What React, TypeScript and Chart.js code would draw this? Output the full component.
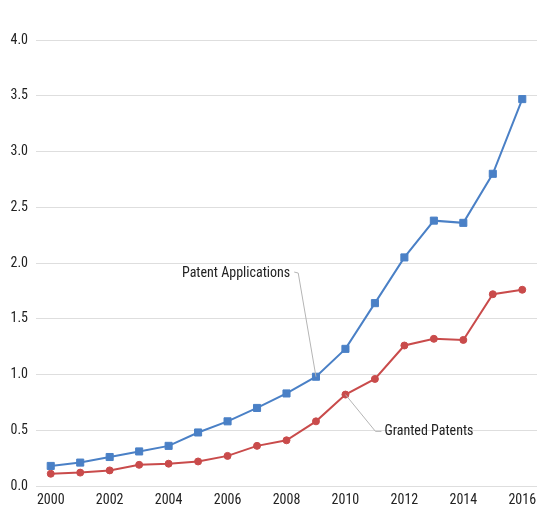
import React, { useEffect, useRef } from "react";
import { Chart, registerables } from "chart.js";

Chart.register(...registerables);

const years = ["2000","2001","2002","2003","2004","2005","2006","2007","2008","2009","2010","2011","2012","2013","2014","2015","2016"];
const applications = [0.18,0.21,0.26,0.31,0.36,0.48,0.58,0.70,0.83,0.98,1.23,1.64,2.05,2.38,2.36,2.80,3.47];
const granted = [0.11,0.12,0.14,0.19,0.20,0.22,0.27,0.36,0.41,0.58,0.82,0.96,1.26,1.32,1.31,1.72,1.76];
const yTicks = [0, 0.5, 1, 1.5, 2, 2.5, 3, 3.5, 4];

const FONT = "'Roboto Condensed', 'Liberation Sans Narrow', sans-serif";

const annotationPlugin = {
  id: "labels",
  afterDatasetsDraw(chart: any) {
    const ctx = chart.ctx;
    const x = chart.scales.x;
    const y = chart.scales.y;
    ctx.save();
    ctx.font = `14px ${FONT}`;
    ctx.fillStyle = "#222";
    ctx.textBaseline = "middle";
    ctx.textAlign = "left";
    // Patent Applications -> 2009
    const ax = x.getPixelForValue(9);
    const ay = y.getPixelForValue(applications[9]);
    const tY = y.getPixelForValue(1.91);
    const tX = ax - 134;
    ctx.fillText("Patent Applications", tX, tY);
    const tw = ctx.measureText("Patent Applications").width;
    ctx.strokeStyle = "#b5b5b5";
    ctx.lineWidth = 1;
    ctx.beginPath();
    ctx.moveTo(tX + tw + 4, tY - 1);
    ctx.lineTo(tX + tw + 8, tY);
    ctx.lineTo(ax, ay);
    ctx.stroke();
    // Granted Patents -> 2010
    const gx = x.getPixelForValue(10);
    const gy = y.getPixelForValue(granted[10]);
    const gtY = y.getPixelForValue(0.49);
    const gtX = gx + 39;
    ctx.fillText("Granted Patents", gtX, gtY);
    ctx.beginPath();
    ctx.moveTo(gtX - 3, gtY);
    ctx.lineTo(gtX - 9, gtY);
    ctx.lineTo(gx, gy);
    ctx.stroke();
    ctx.restore();
  },
};

export default function App() {
  const ref = useRef<HTMLCanvasElement>(null);
  useEffect(() => {
    if (!ref.current) return;
    const chart = new Chart(ref.current, {
      type: "line",
      data: {
        labels: years,
        datasets: [
          {
            label: "Patent Applications",
            data: applications,
            borderColor: "#4a80c6",
            backgroundColor: "#4a80c6",
            borderWidth: 2,
            pointStyle: "rect",
            pointRadius: 5,
            pointBorderWidth: 1,
            tension: 0,
          },
          {
            label: "Granted Patents",
            data: granted,
            borderColor: "#c94b4b",
            backgroundColor: "#c94b4b",
            borderWidth: 2,
            pointStyle: "circle",
            pointRadius: 3.5,
            pointBorderWidth: 1,
            tension: 0,
          },
        ],
      },
      options: {
        animation: false,
        responsive: false,
        maintainAspectRatio: false,
        layout: { autoPadding: false, padding: { top: 40, right: 2, left: 0, bottom: 0 } },
        plugins: { legend: { display: false }, tooltip: { enabled: false } },
        scales: {
          x: {
            type: "category",
            offset: true,
            grid: { display: false, drawTicks: false },
            border: { display: false },
            ticks: {
              autoSkip: false,
              maxRotation: 0,
              color: "#222",
              font: { family: FONT, size: 14 },
              padding: 6,
              callback: (v: any, i: number) => (i % 2 === 0 ? years[i] : ""),
            },
            afterFit: (s: any) => { s.height = 29; s.paddingLeft = 0; s.paddingRight = 0; },
          },
          y: {
            min: 0,
            max: 4,
            afterBuildTicks: (s: any) => { s.ticks = yTicks.map((v) => ({ value: v })); },
            grid: { color: "#dedede", drawTicks: false, lineWidth: 1 },
            border: { display: false },
            ticks: {
              color: "#222",
              font: { family: FONT, size: 14 },
              padding: 8,
              callback: (v: any) => Number(v).toFixed(1),
            },
            afterFit: (s: any) => { s.width = 36; s.paddingTop = 0; s.paddingBottom = 0; },
          },
        },
      },
      plugins: [annotationPlugin],
    });
    return () => chart.destroy();
  }, []);
  return (
    <div style={{ position: "fixed", left: 0, top: 0, width: 539, height: 515, background: "#fff" }}>
      <canvas ref={ref} width={539} height={515} style={{ width: 539, height: 515 }} />
    </div>
  );
}
